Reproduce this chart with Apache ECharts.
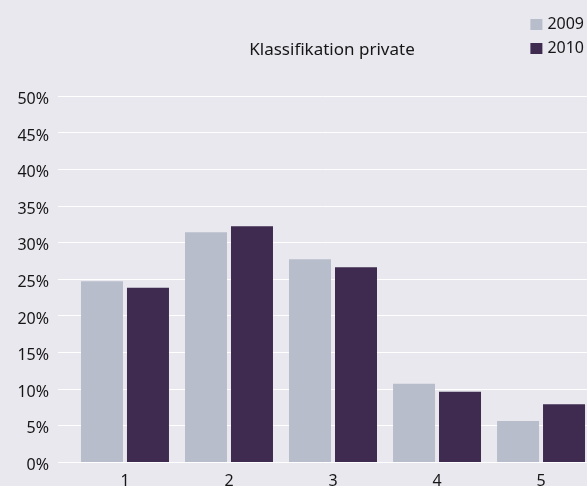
<!DOCTYPE html>
<html>
<head>
<meta charset="utf-8">
<script src="https://cdn.jsdelivr.net/npm/echarts@6/dist/echarts.min.js"></script>
<style>
  html, body { margin: 0; padding: 0; background: #e8e8ee; }
  #chart { width: 587px; height: 486px; }
</style>
</head>
<body>
<div id="chart"></div>
<script>
// Klassifikation private: share per class, 2009 vs 2010
const categories = ['1', '2', '3', '4', '5'];
const values2009 = [24.7, 31.4, 27.7, 10.7, 5.6];
const values2010 = [23.8, 32.2, 26.6, 9.6, 7.9];
const yTicks = [0, 5, 10, 15, 20, 25, 30, 35, 40, 45, 50];

const FONT = '"Noto Sans", "Open Sans", sans-serif';
const TEXT = '#161616';
const positions = categories.map((c, i) => i + 1);

const chart = echarts.init(document.getElementById('chart'), null, { renderer: 'canvas' });
chart.setOption({
  backgroundColor: '#e8e8ee',
  animation: false,
  title: {
    text: 'Klassifikation private',
    left: 332,
    top: 39,
    padding: 0,
    textAlign: 'center',
    textStyle: { fontFamily: FONT, fontSize: 17, fontWeight: 'normal', color: TEXT, lineHeight: 22 }
  },
  legend: {
    orient: 'vertical',
    right: 3,
    top: 14,
    padding: 0,
    itemWidth: 12,
    itemHeight: 11,
    itemGap: 3,
    icon: 'rect',
    textStyle: { fontFamily: FONT, fontSize: 16, color: TEXT, lineHeight: 21 },
    data: ['2009', '2010']
  },
  grid: { left: 58, right: 0, top: 96, bottom: 24, containLabel: false, outerBoundsMode: 'none' },
  xAxis: {
    type: 'value',
    min: 0.356,
    max: 5.442,
    axisLine: { show: false },
    axisTick: { show: false },
    splitLine: { show: false },
    axisLabel: {
      customValues: positions,
      formatter: v => categories[Math.round(v) - 1] || '',
      margin: 11,
      fontFamily: FONT,
      fontSize: 16,
      color: TEXT
    }
  },
  yAxis: {
    type: 'value',
    min: yTicks[0],
    max: yTicks[yTicks.length - 1],
    interval: 5,
    axisLine: { show: false },
    axisTick: { show: false },
    splitLine: { lineStyle: { color: '#ffffff', width: 1 } },
    axisLabel: {
      formatter: v => v + '%',
      margin: 9,
      verticalAlign: 'top',
      lineHeight: 7,
      fontFamily: FONT,
      fontSize: 16,
      color: TEXT
    }
  },
  series: [
    {
      name: '2009',
      type: 'bar',
      barWidth: 42,
      barGap: '9.5%',
      itemStyle: { color: '#b8bdcb' },
      data: values2009.map((v, i) => [positions[i], v])
    },
    {
      name: '2010',
      type: 'bar',
      barWidth: 42,
      barGap: '9.5%',
      itemStyle: { color: '#3f2b4f' },
      data: values2010.map((v, i) => [positions[i], v])
    }
  ]
});
</script>
</body>
</html>
